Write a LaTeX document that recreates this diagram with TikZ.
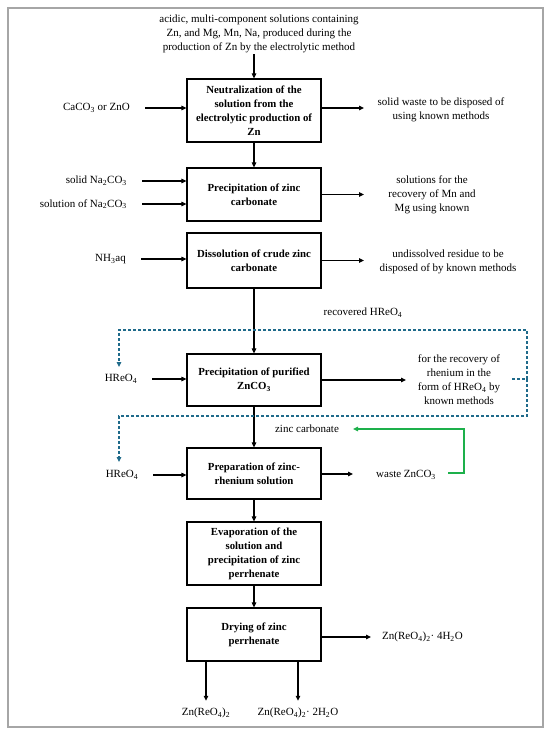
\documentclass[tikz,border=0pt]{standalone}
\usepackage{fontspec}
\setmainfont{Liberation Serif}
\usetikzlibrary{arrows.meta}
\definecolor{dashblue}{HTML}{1F6A8A}
\definecolor{flowgreen}{HTML}{1DB04B}
\definecolor{framegray}{HTML}{A6A6A6}
\begin{document}
\begin{tikzpicture}[x=1pt,y=-1pt,
  proc/.style={draw, line width=1.2pt, minimum width=134pt, inner sep=2pt, align=center, font=\bfseries\fontsize{10.8}{14}\selectfont},
  lbl/.style={inner sep=1pt, align=center, font=\fontsize{11}{14}\selectfont},
  arr/.style={line width=1.1pt, -{Triangle[length=5pt,width=4.5pt]}},
  bdash/.style={draw=dashblue, line width=1.1pt, dash pattern=on 3pt off 2pt},
  barr/.style={-{Triangle[length=5pt,width=4.5pt]}},
  garr/.style={draw=flowgreen, line width=1.3pt, -{Triangle[length=5pt,width=4.5pt]}}]
\useasboundingbox (0,0) rectangle (550,735);
\node[draw=framegray, line width=1.2pt, minimum width=535pt, minimum height=719pt, inner sep=0] (frame) at (275.5,367.5) {};

% process boxes
\node[proc, minimum height=63pt] (b1) at (254,110.5) {Neutralization of the\\solution from the\\electrolytic production of\\Zn};
\node[proc, minimum height=53pt] (b2) at (254,194.5) {Precipitation of zinc\\carbonate};
\node[proc, minimum height=55pt] (b3) at (254,260.5) {Dissolution of crude zinc\\carbonate};
\node[proc, minimum height=52pt] (b4) at (254,380) {Precipitation of purified\\ZnCO\textsubscript{3}};
\node[proc, minimum height=51pt] (b5) at (254,473.5) {Preparation of zinc-\\rhenium solution};
\node[proc, minimum height=63pt] (b6) at (254,553.5) {Evaporation of the\\solution and\\precipitation of zinc\\perrhenate};
\node[proc, minimum height=53pt] (b7) at (254,634.5) {Drying of zinc\\perrhenate};

% vertical flow
\node[lbl] (t0) at (259,34) {acidic, multi-component solutions containing\\Zn, and Mg, Mn, Na, produced during the\\production of Zn by the electrolytic method};
\draw[arr] (t0.south -| b1.north) -- (b1.north);
\draw[arr] (b1.south) -- (b2.north);
\draw[arr] (b3.south) -- (b4.north);
\draw[arr] (b4.south) -- (b5.north);
\draw[arr] (b5.south) -- (b6.north);
\draw[arr] (b6.south) -- (b7.north);

% box 1
\node[lbl, anchor=east] (caco) at (131,108) {CaCO\textsubscript{3} or ZnO};
\draw[arr] ([xshift=14pt]caco.east) -- (caco.east -| b1.west);
\node[lbl] (sw) at (441,110) {solid waste to be disposed of\\using known methods};
\coordinate (e1) at (364,108);
\draw[arr] (b1.east |- e1) -- (e1);

% box 2
\node[lbl, anchor=east] (na1) at (128,181) {solid Na\textsubscript{2}CO\textsubscript{3}};
\node[lbl, anchor=east] (na2) at (128,204) {solution of Na\textsubscript{2}CO\textsubscript{3}};
\draw[arr] ([xshift=14pt]na1.east) -- (na1.east -| b2.west);
\draw[arr] ([xshift=14pt]na2.east) -- (na2.east -| b2.west);
\node[lbl] (sol) at (432,194.5) {solutions for the\\recovery of Mn and\\Mg using known};
\coordinate (e2) at (364,194.5);
\draw[arr] (b2.east) -- (e2);

% box 3
\node[lbl, anchor=east] (nh) at (127,259) {NH\textsubscript{3}aq};
\draw[arr] ([xshift=14pt]nh.east) -- (nh.east -| b3.west);
\node[lbl] (und) at (448,262) {undissolved residue to be\\disposed of by known methods};
\coordinate (e3) at (364,260.5);
\draw[arr] (b3.east) -- (e3);

% box 4
\node[lbl] (rec) at (363,313) {recovered HReO\textsubscript{4}};
\node[lbl] (hre1) at (121,379) {HReO\textsubscript{4}};
\draw[arr] ([xshift=14pt]hre1.east) -- (hre1.east -| b4.west);
\node[lbl] (rhe) at (459,380) {for the recovery of\\rhenium in the\\form of HReO\textsubscript{4} by\\known methods};
\coordinate (e4) at (406,380);
\draw[arr] (b4.east) -- (e4);

% dashed recycle of HReO4
\coordinate (dM) at (512,379);
\coordinate (dR) at (527,379);
\coordinate (dTR) at (527,330);
\coordinate (dTL) at (119,330);
\coordinate (dTE) at (119,367);
\coordinate (dBR) at (527,416);
\coordinate (dBL) at (119,416);
\coordinate (dBE) at (119,462);
\draw[bdash] (dM) -- (dR);
\draw[bdash, barr] (dR) -- (dTR) -- (dTL) -- (dTE);
\draw[bdash, barr] (dR) -- (dBR) -- (dBL) -- (dBE);

% box 5
\node[lbl] (zc) at (307,429) {zinc carbonate};
\node[lbl] (hre2) at (122,475) {HReO\textsubscript{4}};
\draw[arr] ([xshift=14pt]hre2.east) -- (hre2.east -| b5.west);
\node[lbl] (waste) at (406,475) {waste ZnCO\textsubscript{3}};
\coordinate (e5) at (353,474);
\draw[arr] (b5.east |- e5) -- (e5);
\coordinate (g1) at (448,473);
\coordinate (g2) at (464,473);
\coordinate (g3) at (464,429);
\coordinate (g4) at (353,429);
\draw[garr] (g1) -- (g2) -- (g3) -- (g4);

% box 7 outputs
\node[lbl, anchor=west] (z4) at (381,637) {Zn(ReO\textsubscript{4})\textsubscript{2}· 4H\textsubscript{2}O};
\coordinate (e7) at (371,637);
\draw[arr] (b7.east |- e7) -- (e7);
\node[lbl] (z0) at (206,713) {Zn(ReO\textsubscript{4})\textsubscript{2}};
\node[lbl] (z2) at (298,713) {Zn(ReO\textsubscript{4})\textsubscript{2}· 2H\textsubscript{2}O};
\draw[arr] (b7.south -| z0.north) -- ([yshift=6pt]z0.north);
\draw[arr] (b7.south -| z2.north) -- ([yshift=6pt]z2.north);
\end{tikzpicture}
\end{document}
